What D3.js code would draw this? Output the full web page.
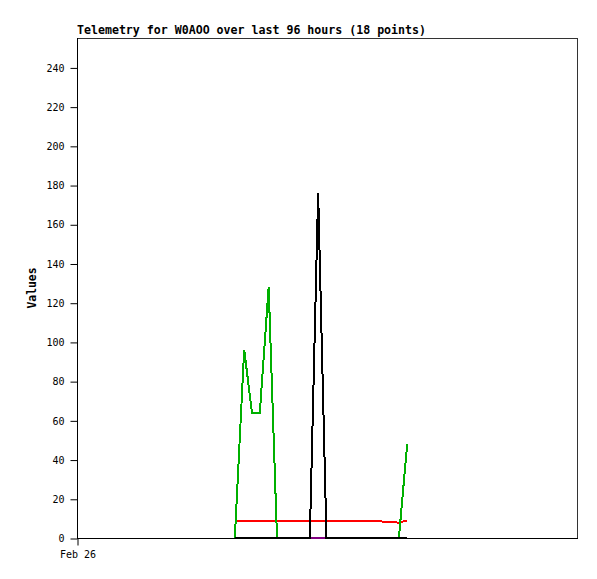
<!DOCTYPE html>
<html>
<head>
<meta charset="utf-8">
<script src="https://cdn.jsdelivr.net/npm/d3@7"></script>
<style>
body { margin: 0; background: #fff; }
svg text { font-family: "DejaVu Sans Mono", "Liberation Mono", monospace; fill: #000; }
.title { font-size: 11.6px; font-weight: bold; }
.yLabel { font-size: 11.4px; font-weight: bold; }
.tick text { font-size: 10px; }
.series { fill: none; stroke-width: 2; shape-rendering: crispEdges; }
</style>
</head>
<body>
<div id="chart"></div>
<script>
var title = 'Telemetry for W0AOO over last 96 hours (18 points)';
var yLabel = 'Values';
var yTicks = [0, 20, 40, 60, 80, 100, 120, 140, 160, 180, 200, 220, 240];
var startTime = new Date(2020, 1, 26, 0, 0);
var spanHours = 96;

// hours after startTime of each of the 18 points
var hours = [30.3, 32.1, 33.6, 35.1, 36.8, 38.4, 40.0, 43.0, 44.7, 46.3, 47.9, 50.5, 53.5, 57.0, 58.6, 60.1, 61.8, 63.4];

var greenValues  = [0, 96, 64, 64, 128, 0, 0, 0, 0, 0, 0, 0, 0, 0, 0, 0, 0, 48];
var redValues    = [8.8, 8.8, 8.8, 8.8, 8.8, 8.8, 8.8, 8.8, 8.8, 8.8, 8.8, 8.8, 8.8, 8.7, 8.4, 8.2, 7.8, 9.0];
var purpleValues = [0, 0, 0, 0, 0, 0, 0, 0, 0, 0, 0, 0, 0, 0, 0, 0, 0, 0];
var blackValues  = [0, 0, 0, 0, 0, 0, 0, 0, 0, 176, 0, 0, 0, 0, 0, 0, 0, 0];

var series = [
    { values: redValues, color: '#ff0000' },
    { values: greenValues, color: '#00b000' },
    { values: purpleValues, color: '#800080' },
    { values: blackValues, color: '#000000' }
];

var width = 597, height = 579;
var x0 = 77, x1 = 577; // plot left / right
var y0 = 538, y1 = 38; // plot bottom / top

var svg = d3.select('#chart').append('svg')
    .attr('width', width)
    .attr('height', height);

var x = d3.scaleTime()
    .domain([startTime, d3.timeHour.offset(startTime, spanHours)])
    .range([x0, x1]);

var y = d3.scaleLinear()
    .domain([0, 255])
    .range([y0, y1]);

function timeAt(h) { return new Date(startTime.getTime() + h * 3600000); }

// plot frame
svg.append('rect')
    .attr('x', x0 + 0.5)
    .attr('y', y1 + 0.5)
    .attr('width', x1 - x0)
    .attr('height', y0 - y1)
    .style('fill', 'none')
    .style('stroke', '#333')
    .style('stroke-width', 1);

svg.append('text').classed('title', true)
    .attr('x', x0)
    .attr('y', 34)
    .text(title);

// y axis
var yAxis = svg.append('g')
    .attr('transform', 'translate(' + (x0 + 0.5) + ',0.5)')
    .call(d3.axisLeft(y).tickValues(yTicks).tickSize(7).tickPadding(6).tickFormat(d3.format('d')));
yAxis.select('.domain').remove();
yAxis.selectAll('.tick line').style('stroke', '#000');

// x axis
var xAxis = svg.append('g')
    .attr('transform', 'translate(0.5,' + (y0 + 0.5) + ')')
    .call(d3.axisBottom(x).tickValues([startTime]).tickSize(7).tickPadding(5).tickFormat(d3.timeFormat('%b %d')));
xAxis.select('.domain').remove();
xAxis.selectAll('.tick line').style('stroke', '#000');

// axis lines
svg.append('line')
    .attr('x1', x0 + 0.5).attr('x2', x0 + 0.5)
    .attr('y1', y1).attr('y2', y0 + 1)
    .style('stroke', '#000');
svg.append('line')
    .attr('x1', x0).attr('x2', x1 + 1)
    .attr('y1', y0 + 0.5).attr('y2', y0 + 0.5)
    .style('stroke', '#000');

svg.append('text').classed('yLabel', true)
    .attr('transform', 'translate(36,' + ((y0 + y1) / 2) + ') rotate(-90)')
    .attr('text-anchor', 'middle')
    .text(yLabel);

var line = d3.line()
    .x(function(d) { return x(timeAt(d.h)); })
    .y(function(d) { return y(d.v); });

for (var iS in series) {
    var s = series[iS];
    var pts = hours.map(function(h, i) { return { h: h, v: s.values[i] }; });
    svg.append('path').classed('series', true)
        .attr('d', line(pts))
        .style('stroke', s.color);
}
</script>
</body>
</html>
